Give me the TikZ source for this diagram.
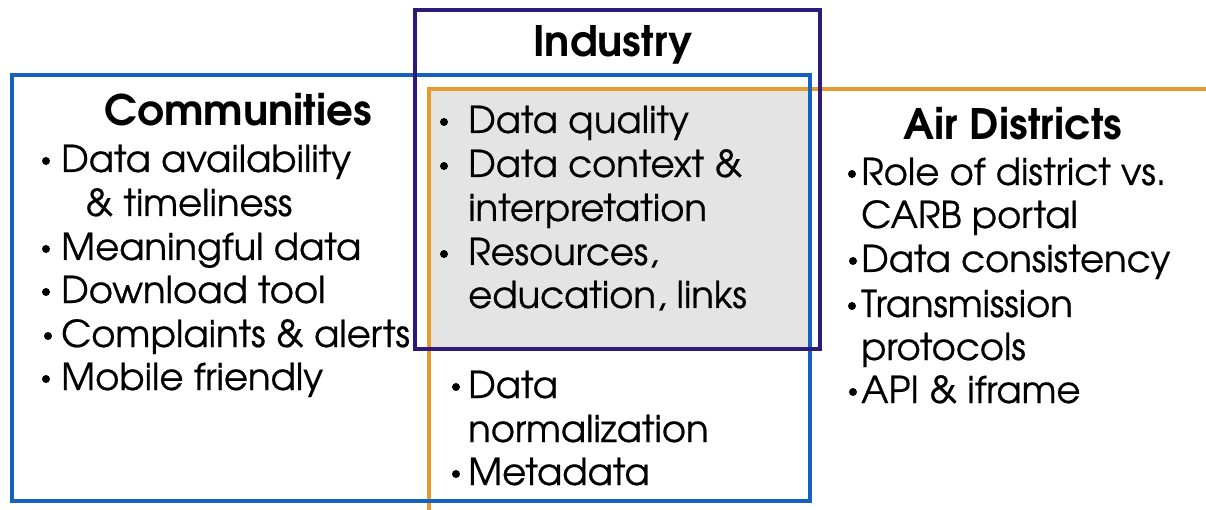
\documentclass[tikz,border=0pt]{standalone}
\usepackage{fontspec}
\setmainfont{texgyreadventor}[Extension=.otf, UprightFont=*-regular, BoldFont=*-bold, UprightFeatures={FakeBold=0.6}]
\definecolor{navybox}{RGB}{46,26,120}
\definecolor{bluebox}{RGB}{20,98,192}
\definecolor{orangebox}{RGB}{232,154,42}
\definecolor{grayfill}{RGB}{228,228,228}
\tikzset{
  item/.style={anchor=base west, inner sep=0pt, font=\fontsize{37}{40}\selectfont},
  head/.style={anchor=base, inner sep=0pt, font=\fontsize{42}{46}\selectfont\bfseries},
  bul/.style={circle, fill=black, inner sep=0pt, minimum size=8pt},
}
\begin{document}
\begin{tikzpicture}[x=1pt, y=-1pt]
\useasboundingbox (0,0) rectangle (1206,510);
\fill[white] (0,0) rectangle (1206,510);
% shared region
\fill[grayfill] (429,90) rectangle (810,349);
% boxes
\draw[orangebox, line width=3.2pt] (1206,89) -- (429,89) -- (429,510);
\draw[bluebox, line width=3.8pt] (12,75) rectangle (810,501);
\draw[navybox, line width=3.8pt] (415,10) rectangle (820,349);
% headings
\node[head] (industry) at (613,57) {Industry};
\node[head] (communities) at (238,126) {Communities};
\node[head] (airdistricts) at (1013,140) {Air Districts};
% communities
\node[bul] (cb1) at (46,161) {};
\node[item] (c1) at (61,172) {Data availability};
\node[item] (c1b) at (85,216) {\& timeliness};
\node[bul] (cb2) at (46,249) {};
\node[item] (c2) at (61,260) {Meaningful data};
\node[bul] (cb3) at (46,292) {};
\node[item] (c3) at (61,303) {Download tool};
\node[bul] (cb4) at (48,336) {};
\node[item] (c4) at (61,347) {Complaints \& alerts};
\node[bul] (cb5) at (46,379) {};
\node[item] (c5) at (61,390) {Mobile friendly};
% shared (all three)
\node[bul] (sb1) at (444,122) {};
\node[item] (s1) at (468,133) {Data quality};
\node[bul] (sb2) at (444,166) {};
\node[item] (s2) at (468,177) {Data context \&};
\node[item] (s2b) at (468,221) {interpretation};
\node[bul] (sb3) at (444,254) {};
\node[item] (s3) at (468,265) {Resources,};
\node[item] (s3b) at (468,308) {education, links};
% communities + air districts
\node[bul] (mb1) at (456,387) {};
\node[item] (m1) at (468,398) {Data};
\node[item] (m1b) at (468,442) {normalization};
\node[bul] (mb2) at (456,474) {};
\node[item] (m2) at (468,485) {Metadata};
% air districts
\node[bul] (ab1) at (852,174) {};
\node[item] (a1) at (861,185) {Role of district vs.};
\node[item] (a1b) at (861,228) {CARB portal};
\node[bul] (ab2) at (853,261) {};
\node[item] (a2) at (861,272) {Data consistency};
\node[bul] (ab3) at (852,306) {};
\node[item] (a3) at (861,317) {Transmission};
\node[item] (a3b) at (861,360) {protocols};
\node[bul] (ab4) at (853,392) {};
\node[item] (a4) at (861,403) {API \& iframe};
\end{tikzpicture}
\end{document}
